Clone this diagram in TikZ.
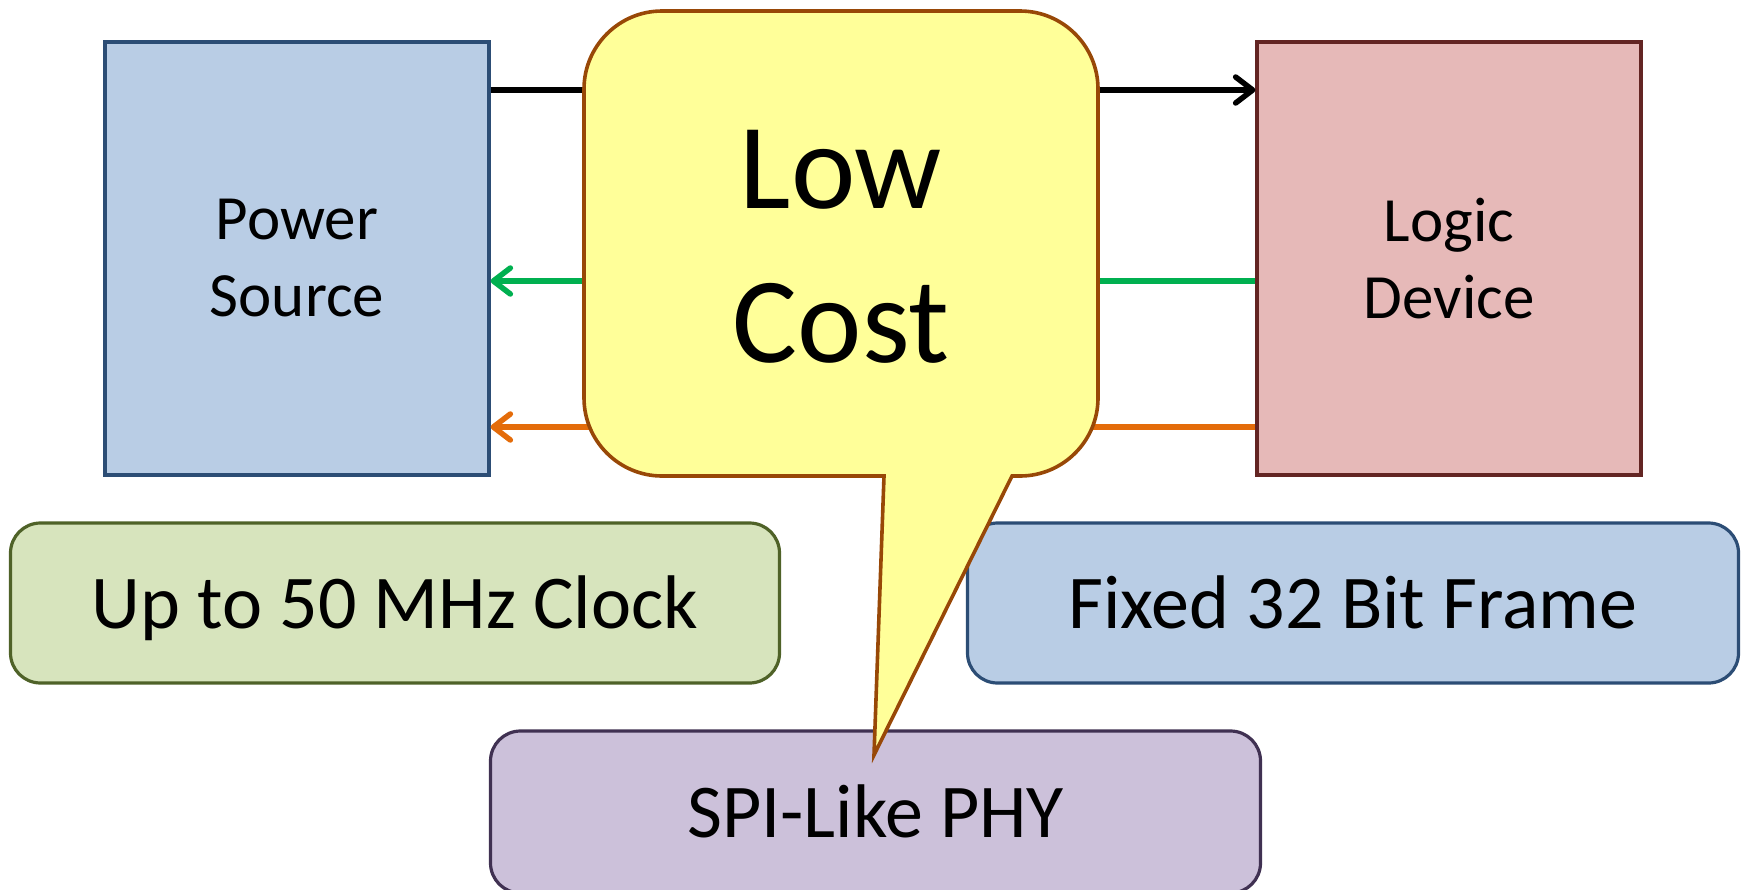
\documentclass[tikz,border=0pt]{standalone}
\usepackage{fontspec}
\setmainfont{Carlito}
\usetikzlibrary{arrows.meta}
\definecolor{bluefill}{HTML}{B9CDE5}
\definecolor{bluedraw}{HTML}{2C4D75}
\definecolor{pinkfill}{HTML}{E6B9B8}
\definecolor{pinkdraw}{HTML}{632523}
\definecolor{greenfill}{HTML}{D7E4BD}
\definecolor{greendraw}{HTML}{4F6228}
\definecolor{purplefill}{HTML}{CCC1DA}
\definecolor{purpledraw}{HTML}{403152}
\definecolor{calloutfill}{HTML}{FFFF99}
\definecolor{calloutdraw}{HTML}{984807}
\definecolor{linegreen}{HTML}{00B050}
\definecolor{lineorange}{HTML}{E46C0A}
\tikzset{
  bigbox/.style={draw, line width=3.2pt, rectangle, inner sep=0pt, align=center,
    font=\fontsize{63}{77}\selectfont},
  infobox/.style={draw, line width=3.2pt, rectangle, rounded corners=30pt, inner sep=0pt,
    text height=50pt, text depth=0pt, font=\fontsize{76}{93}\selectfont},
  conn/.style={line width=5.5pt, -{Straight Barb[length=17pt,width=26pt,round]}},
  calloutshape/.style={fill=calloutfill, draw=calloutdraw, line width=3.6pt, line join=miter},
  bigtext/.style={font=\fontsize{122}{150}\selectfont, anchor=base, inner sep=0pt}
}
\begin{document}
\begin{tikzpicture}[x=1pt,y=-1pt]
\useasboundingbox (0,0) rectangle (1747,889);
\clip (0,0) rectangle (1747,889);
% main boxes
\node[bigbox, fill=bluefill, draw=bluedraw, minimum width=384pt, minimum height=433pt]
  (ps) at (297,258.5) {Power\\Source};
\node[bigbox, fill=pinkfill, draw=pinkdraw, minimum width=384pt, minimum height=433pt]
  (ld) at (1449,258.5) {Logic\\Device};
% info boxes
\node[infobox, fill=greenfill, draw=greendraw, minimum width=769pt, minimum height=160pt]
  (clk) at (395,603) {Up to 50 MHz Clock};
\node[infobox, fill=bluefill, draw=bluedraw, minimum width=771pt, minimum height=160pt]
  (frm) at (1353,603) {Fixed 32 Bit Frame};
\node[infobox, fill=purplefill, draw=purpledraw, minimum width=770pt, minimum height=162pt]
  (phy) at (875.5,812) {SPI-Like PHY};
% connectors
\coordinate (yb) at (0,90);
\coordinate (yg) at (0,281);
\coordinate (yo) at (0,427);
\draw[conn, black] (ps.east |- yb) -- (ld.west |- yb);
\draw[conn, linegreen] (ld.west |- yg) -- (ps.east |- yg);
\draw[conn, lineorange] (ld.west |- yo) -- (ps.east |- yo);
% callout
\draw[calloutshape] (662,11) -- (1020,11)
  .. controls (1063,11) and (1098,46) .. (1098,89)
  -- (1098,398)
  .. controls (1098,441) and (1063,476) .. (1020,476)
  -- (1012,476) -- (874,755) -- (884,476) -- (662,476)
  .. controls (619,476) and (584,441) .. (584,398)
  -- (584,89)
  .. controls (584,46) and (619,11) .. (662,11) -- cycle;
\node[bigtext] (low) at (841,208) {Low};
\node[bigtext] (cost) at (841,362) {Cost};
\end{tikzpicture}
\end{document}
